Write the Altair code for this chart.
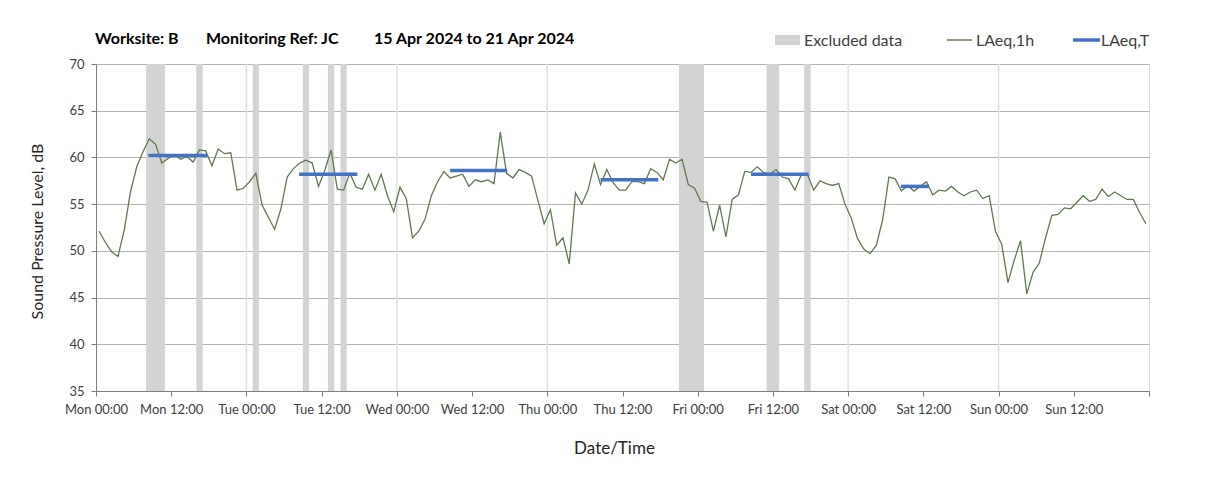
import altair as alt
import pandas as pd

# ---- data (hours from Mon 00:00) ----
laeq_1h = [
    52.1, 50.9, 49.9, 49.4, 52.2, 56.3, 59.0, 60.6, 62.0, 61.4, 59.4, 59.9,
    60.3, 59.8, 60.1, 59.5, 60.8, 60.7, 59.1, 60.9, 60.4, 60.5, 56.5, 56.7,
    57.4, 58.3, 54.9, 53.6, 52.3, 54.5, 57.9, 58.8, 59.4, 59.7, 59.4, 56.9,
    58.6, 60.8, 56.6, 56.5, 58.3, 56.8, 56.6, 58.2, 56.5, 58.2, 55.9, 54.2,
    56.8, 55.6, 51.4, 52.1, 53.4, 55.9, 57.4, 58.5, 57.8, 58.0, 58.2, 56.9,
    57.6, 57.4, 57.6, 57.2, 62.7, 58.3, 57.8, 58.7, 58.4, 58.0, 55.4, 52.9,
    54.4, 50.6, 51.4, 48.6, 56.2, 55.0, 56.5, 59.3, 57.1, 58.7, 57.3, 56.5,
    56.5, 57.4, 57.4, 57.2, 58.8, 58.4, 57.6, 59.8, 59.4, 59.8, 57.1, 56.7,
    55.3, 55.2, 52.1, 54.9, 51.5, 55.5, 56.0, 58.5, 58.4, 59.0, 58.4, 58.2,
    58.7, 57.9, 57.7, 56.5, 58.1, 58.2, 56.5, 57.5, 57.2, 57.0, 57.2, 55.0,
    53.5, 51.3, 50.2, 49.7, 50.6, 53.3, 57.9, 57.7, 56.4, 57.0, 56.4, 56.9,
    57.4, 56.0, 56.5, 56.4, 56.9, 56.3, 55.9, 56.3, 56.5, 55.6, 55.9, 52.1,
    50.7, 46.6, 49.0, 51.1, 45.4, 47.7, 48.7, 51.4, 53.8, 53.9, 54.6, 54.5,
    55.2, 55.9, 55.3, 55.5, 56.6, 55.8, 56.3, 55.9, 55.5, 55.5, 54.1, 52.9,
]
hour_mid = [h + 0.5 for h in range(len(laeq_1h))]

excl_start = [8, 16, 25, 33, 37, 39, 93, 107, 113]
excl_end = [11, 17, 26, 34, 38, 40, 97, 109, 114]

seg_start = [8.35, 32.4, 56.5, 80.5, 104.5, 128.4]
seg_end = [17.75, 41.7, 65.6, 89.7, 113.7, 132.9]
seg_level = [60.2, 58.2, 58.6, 57.6, 58.2, 56.9]

day_lines = [24, 48, 72, 96, 120, 144]
tick_hours = list(range(0, 169, 12))
tick_labels = ["Mon 00:00", "Mon 12:00", "Tue 00:00", "Tue 12:00", "Wed 00:00",
               "Wed 12:00", "Thu 00:00", "Thu 12:00", "Fri 00:00", "Fri 12:00",
               "Sat 00:00", "Sat 12:00", "Sun 00:00", "Sun 12:00", ""]
y_ticks = [35, 40, 45, 50, 55, 60, 65, 70]

title_parts = ["Worksite: B", "Monitoring Ref: JC", "15 Apr 2024 to 21 Apr 2024"]
legend_labels = ["Excluded data", "LAeq,1h", "LAeq,T"]

# ---- layout ----
W, H = 1053, 327
FONT = "Lato"
AX = "#808080"

line_df = pd.DataFrame({"t": hour_mid, "v": laeq_1h})
excl_df = pd.DataFrame({"s": excl_start, "e": excl_end})
seg_df = pd.DataFrame({"s": seg_start, "e": seg_end, "v": seg_level})
day_df = pd.DataFrame({"h": day_lines})
one = pd.DataFrame({"a": [0]})

xs = alt.Scale(domain=[0, 168], nice=False, zero=False)
ys = alt.Scale(domain=[35, 70], nice=False, zero=False)

label_expr = "[" + ",".join("'%s'" % l for l in tick_labels) + "][round(datum.value/12)]"

xaxis = alt.Axis(values=tick_hours, labelExpr=label_expr, grid=False,
                 tickSize=5, tickColor=AX, domainColor=AX,
                 labelFont=FONT, labelFontSize=13, labelColor="#404040",
                 labelPadding=7, labelFlush=False, labelOverlap=False,
                 title="Date/Time", titleFont=FONT, titleFontSize=17,
                 titleFontWeight="normal", titleColor="#262626",
                 titleX=518, titleY=57, titleBaseline="middle", titleAlign="center")
yaxis = alt.Axis(values=y_ticks, grid=True, gridColor="#b4b4b4",
                 tickSize=5, tickColor=AX, domainColor=AX,
                 labelFont=FONT, labelFontSize=13, labelColor="#404040",
                 labelPadding=7,
                 title="Sound Pressure Level, dB", titleFont=FONT, titleFontSize=16,
                 titleFontWeight="normal", titleColor="#262626",
                 titleAngle=270, titleX=-59, titleY=167,
                 titleBaseline="middle", titleAlign="center")

days = alt.Chart(day_df).mark_rule(color="#e2e2e2", strokeWidth=1.5).encode(
    x=alt.X("h:Q", scale=xs, axis=xaxis), y=alt.value(0), y2=alt.value(H))

bands = alt.Chart(excl_df).mark_rect(color="#d3d3d3").encode(
    x=alt.X("s:Q", scale=xs, axis=xaxis), x2="e:Q", y=alt.value(0), y2=alt.value(H))

line = alt.Chart(line_df).mark_line(color="#5e7c50", strokeWidth=1.3).encode(
    x=alt.X("t:Q", scale=xs, axis=xaxis), y=alt.Y("v:Q", scale=ys, axis=yaxis))

segs = alt.Chart(seg_df).mark_rule(color="#4472c4", strokeWidth=3.5).encode(
    x=alt.X("s:Q", scale=xs, axis=xaxis), x2="e:Q", y=alt.Y("v:Q", scale=ys, axis=yaxis))

def txt(s, x, y, size, weight="normal", color="#000000"):
    return alt.Chart(one).mark_text(text=s, font=FONT, fontSize=size, fontWeight=weight,
                                    color=color, align="left", baseline="alphabetic").encode(
        x=alt.value(x), y=alt.value(y))

titles = [txt(title_parts[0], -1, -20, 16, "bold"),
          txt(title_parts[1], 110, -20, 16, "bold"),
          txt(title_parts[2], 278, -20, 16, "bold")]

leg_rect = alt.Chart(one).mark_rect(color="#d3d3d3").encode(
    x=alt.value(679), x2=alt.value(704), y=alt.value(-29), y2=alt.value(-19))
leg_green = alt.Chart(one).mark_rule(color="#4d6b3f", strokeWidth=1.3).encode(
    x=alt.value(851), x2=alt.value(876), y=alt.value(-24))
leg_blue = alt.Chart(one).mark_rule(color="#4472c4", strokeWidth=3.5).encode(
    x=alt.value(977), x2=alt.value(1004), y=alt.value(-24))
leg_texts = [txt(legend_labels[0], 708, -18.5, 16, color="#404040"),
             txt(legend_labels[1], 880, -18.5, 16, color="#404040"),
             txt(legend_labels[2], 1005, -18.5, 16, color="#404040")]

chart = alt.layer(days, bands, line, segs, *titles, leg_rect, leg_green, leg_blue,
                  *leg_texts).properties(
    width=W, height=H,
    autosize=alt.AutoSizeParams(type="none"),
    padding={"left": 88, "top": 56, "right": 40, "bottom": 80},
).configure_view(stroke=AX, strokeWidth=1).configure(background="white")

chart.save("out.html", embed_options={"renderer": "svg", "actions": False})
